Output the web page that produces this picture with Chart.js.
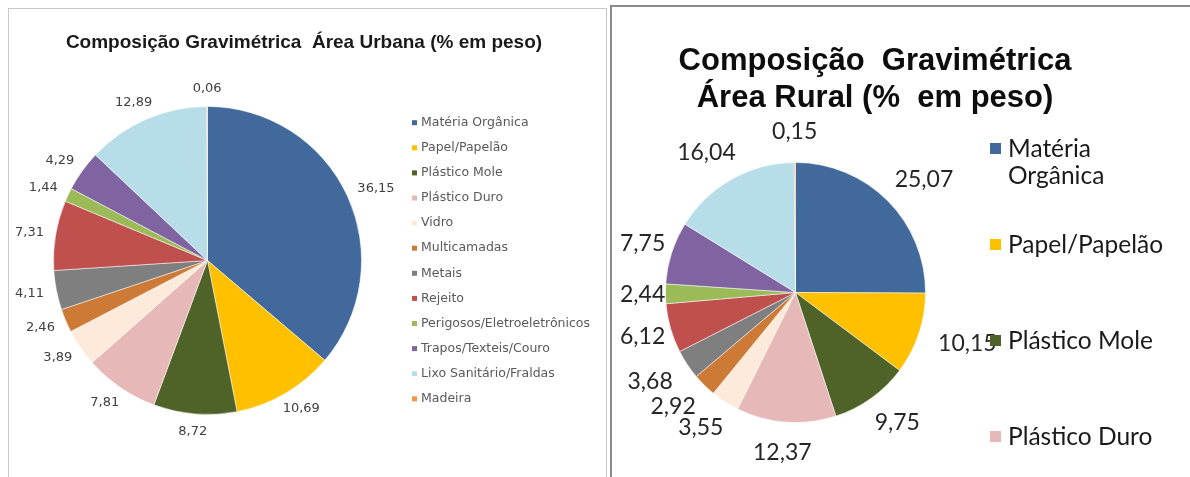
<!DOCTYPE html>
<html>
<head>
<meta charset="utf-8">
<script src="https://cdn.jsdelivr.net/npm/chart.js@4.4.0/dist/chart.umd.min.js"></script>
<style>
	body { margin: 0; background: #fff; width: 1190px; height: 477px; overflow: hidden; position: relative; }
	#urbanBox { position: absolute; left: 8px; top: 8px; width: 597px; height: 480px; border: 1px solid #c8c8c8; }
	#ruralBox { position: absolute; left: 610px; top: 5px; width: 600px; height: 480px; border-top: 2px solid #8a8a8a; border-left: 2px solid #8a8a8a; }
	canvas { display: block; }
</style>
</head>
<body>
<div id="urbanBox"><canvas id="canvas0" width="597" height="468"></canvas></div>
<div id="ruralBox"><canvas id="canvas1" width="578" height="470"></canvas></div>

<script>
// dados (% em peso)
const categorias = ['Matéria Orgânica', 'Papel/Papelão', 'Plástico Mole', 'Plástico Duro', 'Vidro',
	'Multicamadas', 'Metais', 'Rejeito', 'Perigosos/Eletroeletrônicos', 'Trapos/Texteis/Couro',
	'Lixo Sanitário/Fraldas', 'Madeira'];
const urbana = [36.15, 10.69, 8.72, 7.81, 3.89, 2.46, 4.11, 7.31, 1.44, 4.29, 12.89, 0.06];
const rural = [25.07, 10.15, 9.75, 12.37, 3.55, 2.92, 3.68, 6.12, 2.44, 7.75, 16.04, 0.15];
const tituloUrbana = ['Composição Gravimétrica  Área Urbana (% em peso)'];
const tituloRural = ['Composição  Gravimétrica', 'Área Rural (%  em peso)'];

const cores = ['#41699c', '#ffc000', '#4f6228', '#e6b9b8', '#fdeada', '#cc7a36',
	'#7f7f7f', '#c0504d', '#9bbb59', '#8064a2', '#b7dee8', '#f79646'];

function formata(v) {
	return v.toFixed(2).replace('.', ',');
}

function quebra(ctx, texto, maxWidth) {
	const palavras = texto.split(' ');
	const linhas = [];
	let atual = '';
	palavras.forEach(p => {
		const teste = atual ? atual + ' ' + p : p;
		if (atual && ctx.measureText(teste).width > maxWidth) {
			linhas.push(atual);
			atual = p;
		} else
			atual = teste;
	});
	linhas.push(atual);
	return linhas;
}

// rótulos de valor fora das fatias
const rotulos = {
	id: 'rotulos',
	afterDatasetsDraw(chart, args, opts) {
		const ctx = chart.ctx;
		const meta = chart.getDatasetMeta(0);
		const valores = chart.data.datasets[0].data;
		ctx.save();
		ctx.font = opts.font;
		ctx.fillStyle = opts.color;
		ctx.textAlign = 'center';
		ctx.textBaseline = 'middle';
		meta.data.forEach((arc, i) => {
			const p = arc.getProps(['x', 'y', 'startAngle', 'endAngle', 'outerRadius'], true);
			const meio = (p.startAngle + p.endAngle) / 2;
			const ux = Math.cos(meio), uy = Math.sin(meio);
			const texto = formata(valores[i]);
			const w = ctx.measureText(texto).width;
			let x = p.x + (p.outerRadius + opts.gap) * ux + ux * w / 2;
			const y = p.y + (p.outerRadius + opts.gap) * uy + uy * opts.height / 2;
			x = Math.max(x, w / 2 + opts.margin);
			ctx.fillText(texto, x, y);
		});
		ctx.restore();
	}
};

// legenda e título desenhados à mão
const legenda = {
	id: 'legenda',
	afterDraw(chart, args, opts) {
		const ctx = chart.ctx;
		ctx.save();
		ctx.font = opts.font;
		ctx.textAlign = 'left';
		ctx.textBaseline = 'middle';
		chart.data.labels.forEach((rotulo, i) => {
			const y = opts.top + i * opts.spacing;
			ctx.fillStyle = cores[i];
			ctx.fillRect(opts.x, y - opts.box / 2 + opts.boxShift, opts.box, opts.box);
			ctx.fillStyle = opts.color;
			quebra(ctx, rotulo, opts.maxWidth).forEach((linha, j) => {
				ctx.fillText(linha, opts.x + opts.box + opts.gap, y + j * opts.lineHeight);
			});
		});
		ctx.restore();
	}
};

const titulo = {
	id: 'titulo',
	afterDraw(chart, args, opts) {
		const ctx = chart.ctx;
		ctx.save();
		ctx.font = opts.font;
		ctx.fillStyle = opts.color;
		ctx.textAlign = 'center';
		ctx.textBaseline = 'alphabetic';
		opts.text.forEach((linha, j) => ctx.fillText(linha, opts.x, opts.y + j * opts.lineHeight));
		ctx.restore();
	}
};

function criaPizza(idCanvas, valores, padding, pluginOpts) {
	const ctx = document.getElementById(idCanvas).getContext('2d');
	return new Chart(ctx, {
		type: 'pie',
		data: {
			labels: categorias,
			datasets: [{
				data: valores,
				backgroundColor: cores,
				borderColor: 'rgba(255, 255, 255, 0.5)',
				borderWidth: 1
			}]
		},
		options: {
			responsive: false,
			animation: false,
			layout: { padding: padding },
			plugins: Object.assign({
				legend: { display: false },
				tooltip: { enabled: false },
				title: { display: false }
			}, pluginOpts)
		},
		plugins: [rotulos, legenda, titulo]
	});
}

window.addEventListener('load', () => {
	criaPizza('canvas0', urbana, { left: 44, right: 244, top: 97, bottom: 62 }, {
		rotulos: { font: '13px "DejaVu Sans"', color: '#404040', gap: 13, height: 10, margin: 6 },
		legenda: { font: '12.5px "DejaVu Sans"', color: '#595959', x: 403, top: 113.7, spacing: 25.1,
			box: 5, boxShift: 0, gap: 4, maxWidth: 300, lineHeight: 14 },
		titulo: { font: 'bold 19px "Liberation Sans"', color: '#1a1a1a', text: tituloUrbana,
			x: 295, y: 39, lineHeight: 20 }
	});

	criaPizza('canvas1', rural, { left: 53, right: 264, top: 155, bottom: 54 }, {
		rotulos: { font: '23px Lato', color: '#262626', gap: 22, height: 17, margin: 8 },
		legenda: { font: '24.5px Lato', color: '#1a1a1a', x: 378, top: 142.5, spacing: 96,
			box: 11, boxShift: -1, gap: 7, maxWidth: 160, lineHeight: 26.6 },
		titulo: { font: 'bold 31px "Liberation Sans"', color: '#0d0d0d', text: tituloRural,
			x: 263, y: 63, lineHeight: 37 }
	});
});
</script>
</body>
</html>
